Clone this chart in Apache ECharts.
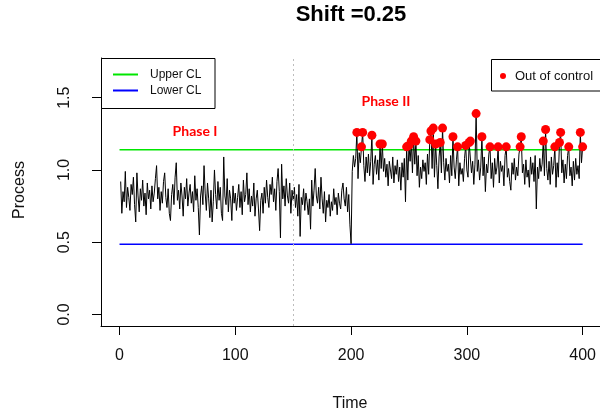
<!DOCTYPE html>
<html>
<head>
<meta charset="utf-8">
<script src="https://cdn.jsdelivr.net/npm/echarts@6/dist/echarts.min.js"></script>
<style>
html,body{margin:0;padding:0;background:#fff}
#chart{width:600px;height:420px}
</style>
</head>
<body>
<div id="chart"></div>
<script>
// Phase I observations (in-control period, t = 1..200)
const phase1 = [
  0.92,0.70,0.85,0.78,0.99,0.74,0.88,0.81,0.72,0.90,
  0.83,0.95,0.76,0.64,0.98,0.82,0.71,0.87,0.79,0.93,
  0.75,0.84,0.69,0.91,0.80,0.86,0.73,0.89,0.78,0.84,
  0.94,1.03,0.80,0.88,0.72,0.85,0.77,0.92,0.98,0.81,
  0.74,0.87,0.70,0.65,0.83,0.90,0.76,0.95,1.05,0.79,
  0.86,0.73,0.91,0.82,0.68,0.88,0.80,0.94,0.75,0.84,
  0.90,0.77,0.85,0.71,0.96,0.79,0.87,0.74,0.55,0.82,
  0.89,0.76,1.03,0.84,0.72,0.91,0.80,0.67,0.86,0.64,
  0.78,1.00,0.83,0.73,0.92,0.79,0.88,0.70,0.65,1.09,
  0.82,0.76,0.94,0.71,0.86,0.80,0.65,0.89,0.77,0.84,
  0.72,0.81,0.90,0.74,0.85,0.69,0.93,0.78,0.83,0.98,
  0.76,0.87,0.71,0.82,0.75,0.91,0.68,0.80,0.86,0.73,
  0.58,0.79,0.84,0.70,0.88,0.77,0.93,0.81,0.74,0.90,
  0.83,0.95,0.78,0.87,0.72,0.92,1.01,0.85,0.53,1.04,
  0.80,0.89,0.75,0.94,0.82,0.77,0.91,0.70,0.86,0.79,
  0.88,0.74,0.83,0.68,0.90,0.54,0.81,0.76,0.87,0.72,
  0.84,0.78,0.69,0.80,0.59,0.93,0.75,0.86,1.01,0.82,
  0.77,0.88,0.73,0.95,0.80,0.70,0.85,0.64,0.79,0.74,
  0.83,0.68,0.78,0.72,0.87,0.76,0.81,0.69,0.84,0.77,
  0.73,0.86,0.91,0.80,0.75,0.88,0.71,0.83,0.62,0.49
];

// Phase II observations (after the 0.25 shift, t = 201..400)
const phase2 = [
  0.99,1.10,1.02,1.08,1.26,0.94,1.12,1.05,1.16,1.26,
  1.03,0.92,1.09,0.98,1.11,0.96,1.06,1.24,0.90,1.04,
  1.10,0.97,1.07,0.93,1.18,1.01,1.18,0.99,1.08,0.95,
  1.04,0.89,1.06,1.00,0.94,1.09,0.91,1.03,0.97,1.07,
  0.92,1.02,0.86,1.05,0.95,1.08,0.78,1.16,0.93,1.17,
  1.06,1.20,0.98,1.23,1.04,1.20,0.96,1.10,0.88,1.02,
  0.94,1.07,0.99,1.05,0.90,1.11,0.97,1.21,1.27,1.01,
  1.29,0.95,1.18,1.03,0.87,1.09,1.19,0.98,1.29,1.05,
  0.93,1.08,0.99,1.04,0.91,1.10,0.96,1.23,1.02,0.94,
  1.07,1.16,0.89,1.05,0.97,1.01,0.92,1.08,1.17,1.00,
  0.95,1.19,1.20,0.98,1.06,0.90,1.04,1.39,0.99,1.07,
  0.93,1.02,1.23,0.96,1.09,0.85,1.04,0.98,1.11,1.16,
  0.94,1.05,0.88,1.08,0.97,1.02,1.16,0.91,1.06,0.99,
  1.03,0.89,1.10,1.16,0.95,1.01,0.92,0.86,1.05,0.97,
  1.08,0.93,1.02,0.96,1.11,1.16,1.23,0.98,1.04,0.90,
  1.07,0.95,1.00,0.88,1.09,0.97,1.05,0.92,1.10,0.73,
  1.02,0.94,1.08,0.99,1.04,1.20,0.96,1.28,1.01,0.93,
  1.06,0.90,1.09,0.97,1.03,1.16,0.88,1.05,0.95,1.19,
  1.26,0.98,1.07,0.91,1.04,0.94,1.10,1.16,0.96,1.02,
  0.89,1.06,0.93,1.08,0.97,1.03,0.94,1.26,1.05,1.16
];

// Control limits estimated from Phase I
const upperCL = 1.14;
const lowerCL = 0.485;
const limitSpan = [0, 400];
const phaseSplit = 150;

const xTicks = [0, 100, 200, 300, 400];
const yTicks = [0, 0.5, 1.0, 1.5];

const process = phase1.concat(phase2);
const points = process.map((v, i) => [i + 1, v]);
const outOfControl = points.filter(p => p[0] > phase1.length && p[1] > upperCL);

const AXIS_FONT = '"Liberation Sans", Arial, sans-serif';
const LEGEND_FONT = '"Liberation Sans", Arial, sans-serif';
const LABEL_FONT = 'Lato, "Open Sans", sans-serif';

const chart = echarts.init(document.getElementById('chart'), null, { renderer: 'canvas' });

chart.setOption({
  animation: false,
  backgroundColor: '#ffffff',
  grid: { left: 101, right: 0, top: 58, bottom: 94, containLabel: false },
  xAxis: {
    type: 'value',
    min: -16,
    max: 415,
    splitLine: { show: false },
    axisLine: { show: true, onZero: false, lineStyle: { color: '#000', width: 1 } },
    axisTick: { show: true, customValues: xTicks, length: 9, lineStyle: { color: '#000' } },
    axisLabel: {
      customValues: xTicks,
      margin: 22,
      color: '#111',
      fontSize: 16,
      fontFamily: AXIS_FONT
    }
  },
  yAxis: {
    type: 'value',
    min: -0.08,
    max: 1.775,
    splitLine: { show: false },
    axisLine: { show: true, onZero: false, lineStyle: { color: '#000', width: 1 } },
    axisTick: { show: true, customValues: yTicks, length: 9, lineStyle: { color: '#000' } },
    axisLabel: {
      customValues: yTicks,
      rotate: 90,
      margin: 28,
      color: '#111',
      fontSize: 16,
      fontFamily: AXIS_FONT,
      formatter: v => v.toFixed(1)
    }
  },
  series: [
    {
      name: 'Process',
      type: 'line',
      data: points,
      showSymbol: false,
      symbol: 'none',
      lineStyle: { color: '#000', width: 1 },
      z: 3,
      markLine: {
        silent: true,
        symbol: 'none',
        label: { show: false },
        lineStyle: { color: '#bdbdbd', type: [2, 3], width: 1 },
        data: [{ xAxis: phaseSplit }]
      }
    },
    {
      name: 'Upper CL',
      type: 'line',
      data: limitSpan.map(x => [x, upperCL]),
      symbol: 'none',
      lineStyle: { color: '#00e600', width: 1.5 },
      z: 2
    },
    {
      name: 'Lower CL',
      type: 'line',
      data: limitSpan.map(x => [x, lowerCL]),
      symbol: 'none',
      lineStyle: { color: '#0000ff', width: 1.5 },
      z: 2
    },
    {
      name: 'Out of control',
      type: 'scatter',
      data: outOfControl,
      symbol: 'circle',
      symbolSize: 9,
      itemStyle: { color: '#ff0000', opacity: 1 },
      z: 5
    }
  ],
  graphic: [
    { type: 'text', style: { text: 'Shift =0.25', font: 'bold 22px ' + AXIS_FONT, fill: '#000', x: 351, y: 15, textAlign: 'center', textVerticalAlign: 'middle' } },
    { type: 'text', style: { text: 'Time', font: '16px ' + AXIS_FONT, fill: '#111', x: 350, y: 404, textAlign: 'center', textVerticalAlign: 'middle' } },
    { type: 'text', x: 20, y: 190, rotation: Math.PI / 2, style: { text: 'Process', font: '16px ' + AXIS_FONT, fill: '#111', x: 0, y: 0, textAlign: 'center', textVerticalAlign: 'middle' } },
    { type: 'text', style: { text: 'Phase I', font: 'bold 14px ' + LABEL_FONT, fill: '#ff0000', x: 195, y: 131, textAlign: 'center', textVerticalAlign: 'middle' } },
    { type: 'text', style: { text: 'Phase II', font: 'bold 14px ' + LABEL_FONT, fill: '#ff0000', x: 386, y: 101, textAlign: 'center', textVerticalAlign: 'middle' } },
    // limits legend, top-left
    { type: 'rect', shape: { x: 101.5, y: 58.5, width: 113.5, height: 50 }, style: { fill: '#fff', stroke: '#000', lineWidth: 1 }, z: 10 },
    { type: 'line', shape: { x1: 113, y1: 74.5, x2: 138, y2: 74.5 }, style: { stroke: '#00e600', lineWidth: 2 }, z: 11 },
    { type: 'line', shape: { x1: 113, y1: 90.5, x2: 138, y2: 90.5 }, style: { stroke: '#0000ff', lineWidth: 2 }, z: 11 },
    { type: 'text', style: { text: 'Upper CL', font: '12px ' + LEGEND_FONT, fill: '#111', x: 150, y: 75, textVerticalAlign: 'middle' }, z: 11 },
    { type: 'text', style: { text: 'Lower CL', font: '12px ' + LEGEND_FONT, fill: '#111', x: 150, y: 91, textVerticalAlign: 'middle' }, z: 11 },
    // out-of-control legend, top-right
    { type: 'rect', shape: { x: 491.5, y: 59.5, width: 110, height: 31.5 }, style: { fill: '#fff', stroke: '#000', lineWidth: 1 }, z: 10 },
    { type: 'circle', shape: { cx: 503, cy: 76, r: 3 }, style: { fill: '#ff0000' }, z: 11 },
    { type: 'text', style: { text: 'Out of control', font: '13px ' + LEGEND_FONT, fill: '#111', x: 515, y: 76, textVerticalAlign: 'middle' }, z: 11 }
  ]
});
</script>
</body>
</html>
